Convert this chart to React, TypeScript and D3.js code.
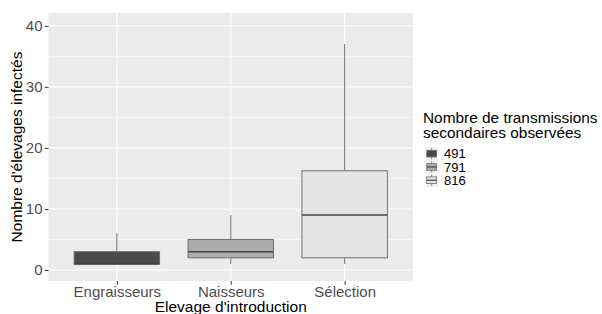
import React, { useRef, useEffect } from 'react';
import * as d3 from 'd3';

const categories = ['Engraisseurs', 'Naisseurs', 'Sélection'];
const legendLabels = ['491', '791', '816'];
const fills = ['#4b4b4b', '#acacac', '#e6e6e6'];
// [lowerWhisker, q1, median, q3, upperWhisker]
const stats = [
  [1, 1, 1, 3, 6],
  [1, 2, 3, 5, 9],
  [1, 2, 9, 16.25, 37],
];
const yTicks = [0, 10, 20, 30, 40];
const yMinor = [5, 15, 25, 35];

const App = () => {
  const ref = useRef<SVGSVGElement>(null);

  useEffect(() => {
    const width = 602;
    const height = 314;
    const panel = { left: 48.5, right: 413, top: 13, bottom: 281 };
    const font = 'Liberation Sans, Arial, sans-serif';

    const svg = d3.select(ref.current)
      .attr('width', width)
      .attr('height', height);
    svg.selectAll('*').remove();

    const x = d3.scalePoint<string>()
      .domain(categories)
      .range([panel.left, panel.right])
      .padding(0.6);
    const step = x.step();
    const boxW = step * 0.75;

    const y = d3.scaleLinear()
      .domain([-1.8, 42.1])
      .range([panel.bottom, panel.top]);

    svg.append('rect')
      .attr('x', panel.left).attr('y', panel.top)
      .attr('width', panel.right - panel.left)
      .attr('height', panel.bottom - panel.top)
      .attr('fill', '#ebebeb');

    svg.append('g').selectAll('line').data(yMinor).join('line')
      .attr('x1', panel.left).attr('x2', panel.right)
      .attr('y1', d => y(d)).attr('y2', d => y(d))
      .attr('stroke', '#fff').attr('stroke-width', 0.55);

    svg.append('g').selectAll('line').data(yTicks).join('line')
      .attr('x1', panel.left).attr('x2', panel.right)
      .attr('y1', d => y(d)).attr('y2', d => y(d))
      .attr('stroke', '#fff').attr('stroke-width', 1.1);

    svg.append('g').selectAll('line').data(categories).join('line')
      .attr('x1', d => x(d)!).attr('x2', d => x(d)!)
      .attr('y1', panel.top).attr('y2', panel.bottom)
      .attr('stroke', '#fff').attr('stroke-width', 1.1);

    const boxes = svg.append('g').selectAll('g').data(stats).join('g');
    boxes.append('line')
      .attr('x1', (d, i) => x(categories[i])!).attr('x2', (d, i) => x(categories[i])!)
      .attr('y1', d => y(d[3])).attr('y2', d => y(d[4]))
      .attr('stroke', '#6e6e6e').attr('stroke-width', 1);
    boxes.append('line')
      .attr('x1', (d, i) => x(categories[i])!).attr('x2', (d, i) => x(categories[i])!)
      .attr('y1', d => y(d[0])).attr('y2', d => y(d[1]))
      .attr('stroke', '#6e6e6e').attr('stroke-width', 1);
    boxes.append('rect')
      .attr('x', (d, i) => x(categories[i])! - boxW / 2)
      .attr('width', boxW)
      .attr('y', d => y(d[3]))
      .attr('height', d => y(d[1]) - y(d[3]))
      .attr('fill', (d, i) => fills[i])
      .attr('stroke', '#6e6e6e').attr('stroke-width', 1);
    boxes.append('line')
      .attr('x1', (d, i) => x(categories[i])! - boxW / 2)
      .attr('x2', (d, i) => x(categories[i])! + boxW / 2)
      .attr('y1', d => y(d[2])).attr('y2', d => y(d[2]))
      .attr('stroke', '#454545').attr('stroke-width', 1.6);

    // y axis
    const yAxis = svg.append('g')
      .attr('transform', `translate(${panel.left},0)`)
      .call(d3.axisLeft(y).tickValues(yTicks).tickSize(3.7).tickPadding(2.3));
    yAxis.select('.domain').remove();
    yAxis.selectAll('line').attr('stroke', '#333');
    yAxis.selectAll('text')
      .attr('fill', '#4d4d4d').attr('font-size', 15).attr('font-family', font);

    // x axis
    const xAxis = svg.append('g')
      .attr('transform', `translate(0,${panel.bottom})`)
      .call(d3.axisBottom(x).tickSize(3.7).tickPadding(2));
    xAxis.select('.domain').remove();
    xAxis.selectAll('line').attr('stroke', '#333');
    xAxis.selectAll('text')
      .attr('fill', '#4d4d4d').attr('font-size', 15).attr('font-family', font);

    svg.append('text')
      .attr('x', (panel.left + panel.right) / 2).attr('y', 311.5)
      .attr('text-anchor', 'middle')
      .attr('font-size', 15.5).attr('font-family', font).attr('fill', '#000')
      .text("Elevage d'introduction");

    svg.append('text')
      .attr('transform', `translate(22,${(panel.top + panel.bottom) / 2}) rotate(-90)`)
      .attr('text-anchor', 'middle')
      .attr('font-size', 15.5).attr('font-family', font).attr('fill', '#000')
      .text("Nombre d'élevages infectés");

    // legend
    const legend = svg.append('g').attr('transform', 'translate(423,0)');
    legend.append('text')
      .attr('y', 123).attr('font-size', 15.4).attr('font-family', font)
      .text('Nombre de transmissions');
    legend.append('text')
      .attr('y', 138).attr('font-size', 15.4).attr('font-family', font)
      .text('secondaires observées');

    const keys = legend.selectAll('g.key').data(legendLabels).join('g')
      .attr('class', 'key')
      .attr('transform', (d, i) => `translate(2,${147 + i * 13.3})`);
    keys.append('rect')
      .attr('width', 13.3).attr('height', 13.3).attr('fill', '#f2f2f2');
    keys.append('line')
      .attr('x1', 6.65).attr('x2', 6.65).attr('y1', 1).attr('y2', 12.3)
      .attr('stroke', '#6e6e6e').attr('stroke-width', 0.8);
    keys.append('rect')
      .attr('x', 1.8).attr('y', 3.3).attr('width', 9.7).attr('height', 6.7)
      .attr('fill', (d, i) => fills[i])
      .attr('stroke', '#6e6e6e').attr('stroke-width', 0.8);
    keys.append('line')
      .attr('x1', 1.8).attr('x2', 11.5).attr('y1', 6.65).attr('y2', 6.65)
      .attr('stroke', '#454545').attr('stroke-width', 1.2);
    keys.append('text')
      .attr('x', 19).attr('y', 11.3)
      .attr('font-size', 13).attr('font-family', font)
      .text(d => d);
  }, []);

  return (
    <svg ref={ref} style={{ position: 'absolute', left: 0, top: 0 }}>
    </svg>
  );
};

export default App;
